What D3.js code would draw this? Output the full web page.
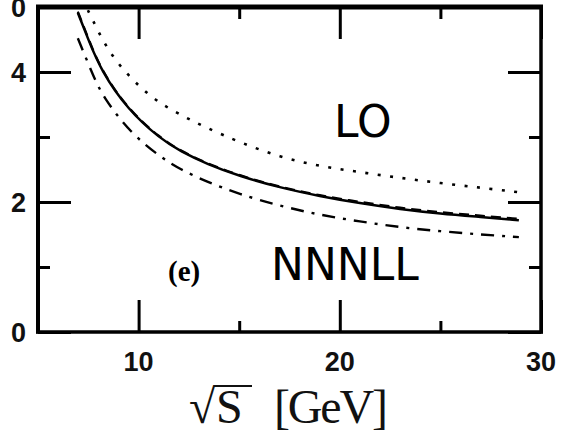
<!doctype html>
<html lang="en">
<head>
<meta charset="utf-8">
<script src="https://d3js.org/d3.v7.min.js"></script>
<style>
  body { margin: 0; background: #fff; }
  svg { display: block; }
  .tick-label { font-family: "Liberation Sans", Arial, sans-serif; font-weight: bold; font-size: 27px; fill: #111; }
  .curve { fill: none; stroke: #000; stroke-width: 2.5px; }
</style>
</head>
<body>
<div id="app"><svg width="565" height="438"></svg></div>
<script>
// values
let lo = [[7.48,4.95],[7.72,4.80],[8.27,4.45],[9.01,4.11],[9.95,3.80],[10.94,3.54],[12.08,3.34],[13.32,3.15],[15.0,2.92],[17.03,2.69],[19.0,2.55],[21.0,2.46],[23.0,2.37],[25.0,2.29],[27.0,2.22],[28.9,2.15]];
let nnnll = [[6.98,4.91],[7.5,4.50],[8.12,4.03],[9.46,3.42],[11.09,2.97],[12.08,2.78],[13.42,2.58],[15.0,2.40],[17.03,2.22],[19.0,2.09],[21.0,1.98],[23.0,1.89],[25.0,1.82],[27.0,1.77],[28.9,1.72]];
let nnnllAlt = [[6.98,4.93],[7.5,4.52],[8.12,4.04],[9.46,3.43],[11.09,2.98],[12.08,2.79],[13.42,2.59],[15.0,2.41],[17.03,2.23],[19.0,2.10],[21.0,2.00],[23.0,1.91],[25.0,1.84],[27.0,1.79],[28.9,1.74]];
let lower = [[6.98,4.52],[7.77,3.92],[8.27,3.60],[9.6,3.06],[11.09,2.69],[12.08,2.50],[13.4,2.31],[15.0,2.12],[17.03,1.94],[19.0,1.80],[21.0,1.70],[23.0,1.61],[25.0,1.55],[27.0,1.50],[28.9,1.46]];

let xMajor = [10, 20, 30];
let xMinor = [15, 25];
let yMajor = [0, 2, 4];
let yMinor = [1, 3, 5];
let topLabel = "0";   // clipped label of the panel above

let svg = d3.select('svg');
let x = d3.scaleLinear().domain([5, 30]).range([38, 541]);
let y = d3.scaleLinear().domain([0, 5]).range([332, 7]);

let line = d3.line().x(d => x(d[0])).y(d => y(d[1])).curve(d3.curveBasis);

svg.append('path').attr('class', 'curve').attr('d', line(lo))
  .style('stroke-width', '2.6px').style('stroke-dasharray', '3 9.5');
svg.append('path').attr('class', 'curve').attr('d', line(nnnll));
svg.append('path').attr('class', 'curve').attr('d', line(nnnllAlt))
  .style('stroke-width', '2.2px').style('stroke-dasharray', '10 6');
svg.append('path').attr('class', 'curve').attr('d', line(lower))
  .style('stroke-width', '2.4px').style('stroke-dasharray', '13 8 3 8');

// axes with inward ticks
function drawAxis(axis, transform) {
  let g = svg.append('g').attr('transform', transform).call(axis);
  g.selectAll('text').remove();
  g.select('.domain').remove();
  g.selectAll('line').attr('stroke', '#000').attr('stroke-width', 3);
}
drawAxis(d3.axisBottom(x).tickValues(xMajor).tickSize(-32), `translate(0,${y(0)})`);
drawAxis(d3.axisBottom(x).tickValues(xMinor).tickSize(-11), `translate(0,${y(0)})`);
drawAxis(d3.axisTop(x).tickValues(xMajor).tickSize(-32), `translate(0,${y(5)})`);
drawAxis(d3.axisTop(x).tickValues(xMinor).tickSize(-12), `translate(0,${y(5)})`);
drawAxis(d3.axisLeft(y).tickValues(yMajor).tickSize(-33), `translate(${x(5)},0)`);
drawAxis(d3.axisLeft(y).tickValues(yMinor).tickSize(-12), `translate(${x(5)},0)`);
drawAxis(d3.axisRight(y).tickValues(yMajor).tickSize(-33), `translate(${x(30)},0)`);
drawAxis(d3.axisRight(y).tickValues(yMinor).tickSize(-12), `translate(${x(30)},0)`);

// frame
svg.append('line').attr('x1', x(5) - 2).attr('x2', x(30) + 2).attr('y1', y(5)).attr('y2', y(5)).attr('stroke', '#000').attr('stroke-width', 5);
svg.append('line').attr('x1', x(5) - 2).attr('x2', x(30) + 2).attr('y1', y(0)).attr('y2', y(0)).attr('stroke', '#000').attr('stroke-width', 3.5);
svg.append('line').attr('x1', x(5)).attr('x2', x(5)).attr('y1', y(5)).attr('y2', y(0) + 1.5).attr('stroke', '#000').attr('stroke-width', 4);
svg.append('line').attr('x1', x(30)).attr('x2', x(30)).attr('y1', y(5)).attr('y2', y(0) + 1.5).attr('stroke', '#000').attr('stroke-width', 3.5);

// tick labels
svg.selectAll('text.xl').data(xMajor).enter().append('text')
  .attr('class', 'tick-label').attr('x', d => x(d)).attr('y', 371)
  .attr('text-anchor', 'middle').text(d => d);
svg.selectAll('text.yl').data(yMajor).enter().append('text')
  .attr('class', 'tick-label').attr('x', 26).attr('y', d => y(d) + 10)
  .attr('text-anchor', 'end').text(d => d);
svg.append('text').attr('class', 'tick-label').attr('x', 26).attr('y', y(5) + 10)
  .attr('text-anchor', 'end').text(topLabel);

// axis title: sqrt(S) [GeV]
let title = svg.append('text').attr('y', 423)
  .style('font-family', '"Liberation Serif", "DejaVu Serif", serif').style('font-size', '48px').style('fill', '#111');
title.append('tspan').attr('x', 189).text('\u221A');
title.append('tspan').attr('x', 216).text('S');
title.append('tspan').attr('x', 274).attr('textLength', 114).text('[GeV]');
svg.append('line').attr('x1', 214).attr('x2', 252).attr('y1', 386).attr('y2', 386).attr('stroke', '#111').attr('stroke-width', 2);

// annotations
svg.append('text').attr('x', 334).attr('y', 137)
  .style('font-family', '"DejaVu Sans", sans-serif').style('font-size', '44px').text('LO');
svg.append('text').attr('x', 271).attr('y', 280)
  .style('font-family', '"DejaVu Sans", sans-serif').style('font-size', '44px').text('NNNLL');
svg.append('text').attr('x', 168).attr('y', 281)
  .style('font-family', '"Liberation Serif", serif').style('font-weight', 'bold').style('font-size', '29px').text('(e)');
</script>
</body>
</html>
